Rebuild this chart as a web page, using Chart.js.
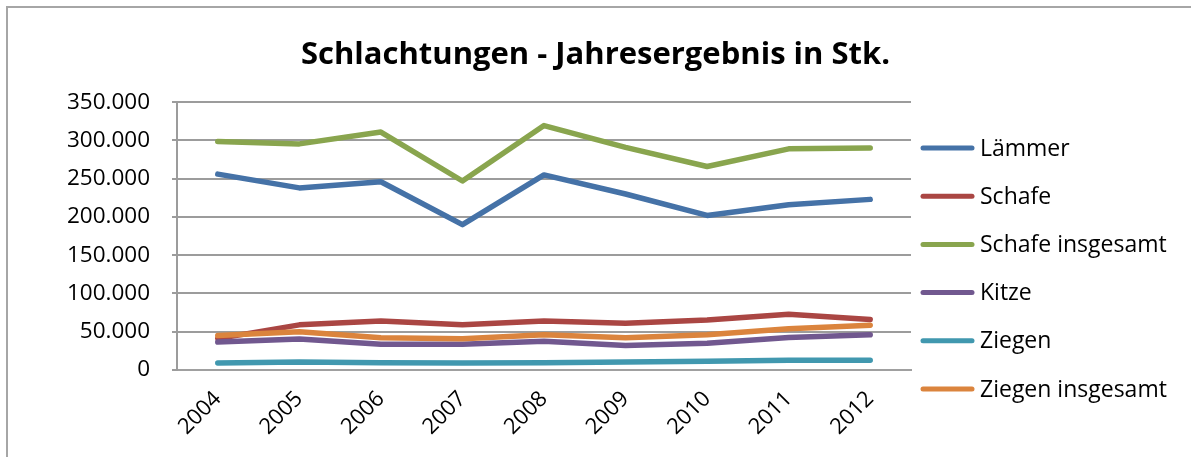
<!DOCTYPE html>
<html>
<head>
<meta charset="utf-8">
<script src="https://cdn.jsdelivr.net/npm/chart.js@4/dist/chart.umd.min.js"></script>
<style>
  html, body { margin: 0; padding: 0; background: #fff; }
  #wrap { position: relative; width: 1191px; height: 457px; overflow: hidden; }
  #rahmen { position: absolute; left: 6px; top: 6px; width: 1200px; height: 500px;
            border-left: 2px solid #a6a6a6; border-top: 2px solid #a6a6a6; }
  canvas { position: absolute; left: 0; top: 0; }
</style>
</head>
<body>
<div id="wrap">
  <div id="rahmen"></div>
  <canvas id="myChart" width="1191" height="457"></canvas>
</div>
<script>
var jahre = ['2004', '2005', '2006', '2007', '2008', '2009', '2010', '2011', '2012'];

var laemmer = [256000, 238000, 246000, 190000, 255000, 230000, 202000, 216000, 223000];
var schafe = [41000, 59000, 64000, 59000, 64000, 61000, 65500, 73000, 66000];
var schafeGesamt = [298500, 295500, 311000, 247000, 319500, 291000, 266000, 289000, 290000];
var kitze = [36500, 40500, 33500, 33500, 37500, 32000, 35000, 42500, 46000];
var ziegen = [9300, 10600, 9400, 9000, 9500, 10600, 11400, 12600, 12800];
var ziegenGesamt = [45000, 50000, 42000, 41000, 46000, 42000, 46000, 54000, 58500];

var namen = ['Lämmer', 'Schafe', 'Schafe insgesamt', 'Kitze', 'Ziegen', 'Ziegen insgesamt'];
var farben = ['#4572A7', '#AA4643', '#89A54E', '#71588F', '#4198AF', '#DB843D'];
var reihen = [laemmer, schafe, schafeGesamt, kitze, ziegen, ziegenGesamt];

var yTicks = [0, 50000, 100000, 150000, 200000, 250000, 300000, 350000];

var schrift = "'Open Sans', sans-serif";

// Legende rechts wie im Excel-Diagramm
var legendePlugin = {
  id: 'legende',
  afterDraw: function(chart) {
    var ctx = chart.ctx;
    ctx.save();
    chart.data.datasets.forEach(function(ds, i) {
      var y = 148 + i * 48.2;
      ctx.strokeStyle = ds.borderColor;
      ctx.lineWidth = 5;
      ctx.lineCap = 'round';
      ctx.beginPath();
      ctx.moveTo(923, y);
      ctx.lineTo(972, y);
      ctx.stroke();
      ctx.fillStyle = '#000';
      ctx.font = '23px ' + schrift;
      ctx.textBaseline = 'middle';
      ctx.textAlign = 'left';
      ctx.fillText(ds.label, 980, y + 1);
    });
    ctx.restore();
  }
};

function montaDatasets() {
  return reihen.map(function(werte, i) {
    return {
      label: namen[i],
      data: werte,
      borderColor: farben[i],
      backgroundColor: farben[i],
      borderWidth: 5.5,
      borderCapStyle: 'round',
      borderJoinStyle: 'round',
      pointRadius: 0,
      tension: 0,
      order: reihen.length - i
    };
  });
}

var ctxChart = document.getElementById('myChart').getContext('2d');
var chart = new Chart(ctxChart, {
  type: 'line',
  data: {
    labels: jahre,
    datasets: montaDatasets()
  },
  options: {
    responsive: false,
    animation: false,
    layout: { padding: 0 },
    plugins: {
      legend: { display: false },
      tooltip: { enabled: false },
      title: {
        display: true,
        text: 'Schlachtungen - Jahresergebnis in Stk.',
        color: '#000',
        font: { family: schrift, size: 31, weight: 'bold', lineHeight: 1.2 },
        padding: { top: 37, bottom: 28 }
      }
    },
    scales: {
      x: {
        offset: true,
        grid: { display: false },
        border: { display: true, color: '#a0a0a0', width: 2 },
        ticks: {
          color: '#000',
          font: { family: schrift, size: 22 },
          maxRotation: 45,
          minRotation: 45,
          padding: 8
        },
        afterFit: function(scale) { scale.width = 734; scale.height = 87; }
      },
      y: {
        min: 0,
        max: 350000,
        afterBuildTicks: function(scale) {
          scale.ticks = yTicks.map(function(v) { return { value: v }; });
        },
        grid: { color: '#9c9c9c', lineWidth: 2, tickLength: 5 },
        border: { display: true, color: '#9c9c9c', width: 2 },
        ticks: {
          color: '#000',
          font: { family: schrift, size: 22.5 },
          padding: 22,
          callback: function(v) { return v.toLocaleString('de-DE'); }
        },
        afterFit: function(scale) { scale.width = 177; }
      },
      // leere Achse rechts, nur Platz fuer die Legende
      platz: {
        type: 'linear',
        position: 'right',
        display: true,
        grid: { display: false },
        border: { display: false },
        ticks: { display: false },
        afterFit: function(scale) { scale.width = 280; }
      }
    }
  },
  plugins: [legendePlugin]
});
</script>
</body>
</html>
